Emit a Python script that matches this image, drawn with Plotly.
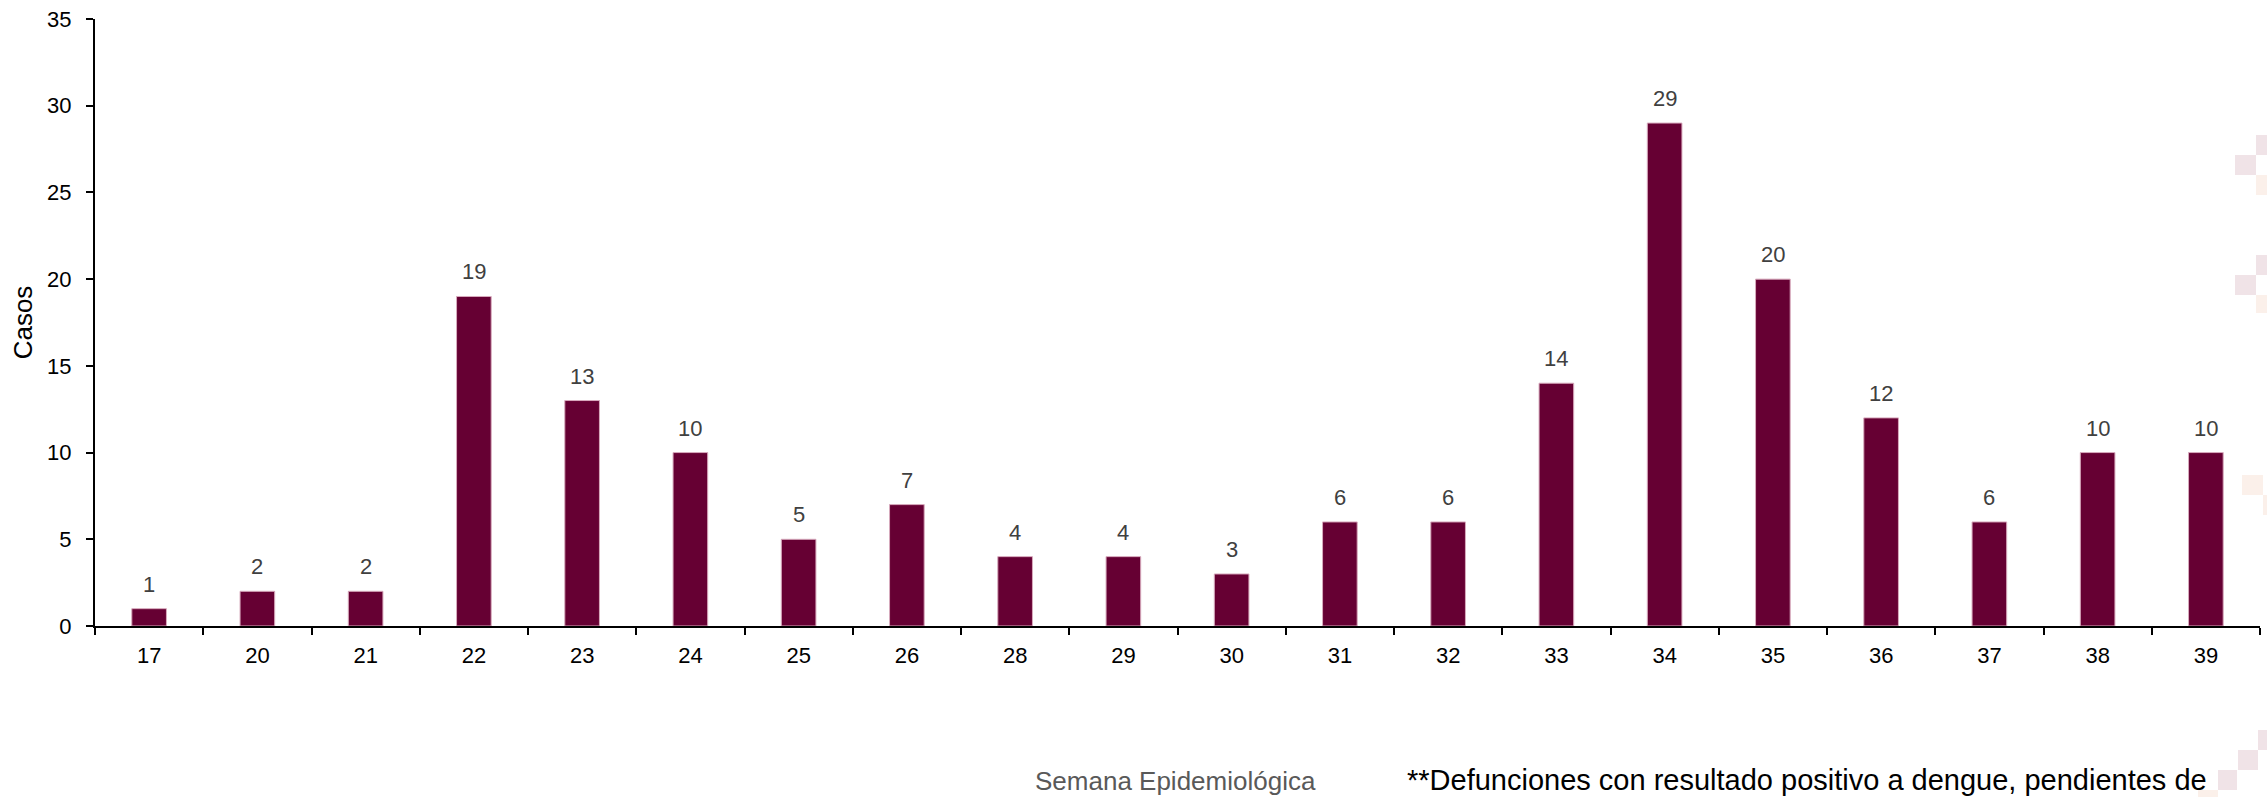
import plotly.graph_objects as go

semanas = ["17", "20", "21", "22", "23", "24", "25", "26", "28", "29",
           "30", "31", "32", "33", "34", "35", "36", "37", "38", "39"]
casos = [1, 2, 2, 19, 13, 10, 5, 7, 4, 4, 3, 6, 6, 14, 29, 20, 12, 6, 10, 10]
y_ticks = [0, 5, 10, 15, 20, 25, 30, 35]

W, H = 2267, 797
L, R, T, B = 95, 7, 19, 171
PW, PH = W - L - R, H - T - B

BAR = "#660033"
FONT = "Liberation Sans, Arial, sans-serif"

fig = go.Figure()
fig.add_trace(go.Bar(
    x=semanas, y=casos,
    marker=dict(color=BAR, line=dict(color="#d8aabd", width=1)),
    width=0.32,
    hoverinfo="x+y",
))

for i, v in enumerate(casos):
    fig.add_annotation(x=i, y=v, text=str(v), showarrow=False,
                       yanchor="bottom", yshift=10,
                       font=dict(family=FONT, size=22, color="#404040"))

# decorative squares (pixel coords -> paper)
def px2paper(x0, y0, x1, y1):
    return dict(x0=(x0 - L) / PW, x1=(x1 - L) / PW,
                y0=(H - B - y0) / PH, y1=(H - B - y1) / PH)

PINK, PEACH = "#f0e3e7", "#fbf0ea"
deco = [
    (2256, 135, 2267, 155, PINK), (2235, 155, 2256, 175, PINK), (2256, 175, 2267, 195, PEACH),
    (2256, 255, 2267, 275, PINK), (2235, 275, 2256, 295, PINK), (2256, 295, 2267, 313, PEACH),
    (2242, 475, 2263, 495, PEACH), (2263, 495, 2267, 515, PEACH),
    (2258, 730, 2267, 750, PINK), (2238, 750, 2258, 770, PINK), (2218, 770, 2237, 790, PINK),
    (2198, 790, 2218, 797, PEACH),
]
for x0, y0, x1, y1, c in deco:
    fig.add_shape(type="rect", xref="paper", yref="paper", layer="below",
                  fillcolor=c, line=dict(width=0), **px2paper(x0, y0, x1, y1))

fig.add_annotation(xref="paper", yref="paper",
                   x=(1175 - L) / PW, y=(H - B - 781) / PH,
                   text="Semana Epidemiológica", showarrow=False,
                   xanchor="center", yanchor="middle",
                   font=dict(family=FONT, size=26, color="#595959"))
fig.add_annotation(xref="paper", yref="paper",
                   x=(1405 - L) / PW, y=(H - B - 780) / PH,
                   text="**Defunciones con resultado positivo a dengue, pendientes de",
                   showarrow=False, xanchor="left", yanchor="middle",
                   font=dict(family=FONT, size=29, color="#000000"))

fig.update_layout(
    width=W, height=H,
    margin=dict(l=L, r=R, t=T, b=B, autoexpand=False),
    paper_bgcolor="white", plot_bgcolor="white",
    showlegend=False,
    font=dict(family=FONT, size=22, color="#000000"),
    xaxis=dict(type="category", range=[-0.5, len(semanas) - 0.5], automargin=False,
               showline=True, linecolor="#000000", linewidth=2,
               ticks="outside", tickson="boundaries", ticklen=7, tickwidth=2,
               tickcolor="#000000", showgrid=False, zeroline=False,
               ticklabelstandoff=9,
               tickfont=dict(family=FONT, size=22, color="#000000")),
    yaxis=dict(range=[0, 35], tickvals=y_ticks, automargin=False, showline=True,
               linecolor="#000000",
               linewidth=2, ticks="outside", ticklen=7, tickwidth=2, tickcolor="#000000",
               showgrid=False, zeroline=False, ticklabelstandoff=10,
               title=dict(text="Casos", font=dict(family=FONT, size=26, color="#000000"),
                          standoff=7),
               tickfont=dict(family=FONT, size=22, color="#000000")),
)

fig.write_html("out.html", config={"displayModeBar": False},
               post_script="document.body.style.margin='0';document.body.style.overflow='hidden';")
